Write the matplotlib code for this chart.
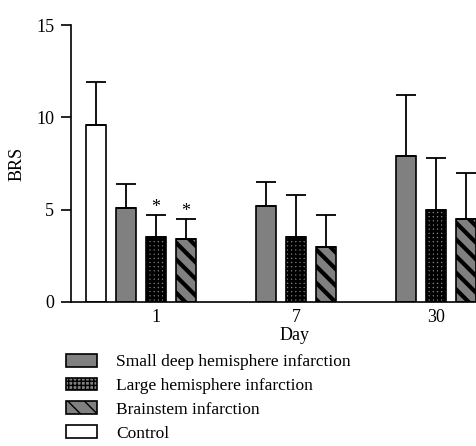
import matplotlib
matplotlib.use("Agg")
import matplotlib.pyplot as plt
import numpy as np
from matplotlib.patches import Patch

plt.rcParams["font.family"] = "Liberation Serif"

days = ["1", "7", "30"]
series = ["Small deep hemisphere infarction", "Large hemisphere infarction", "Brainstem infarction"]
small_deep = [5.1, 5.2, 7.9]
small_deep_err = [1.3, 1.3, 3.3]
large = [3.5, 3.5, 5.0]
large_err = [1.2, 2.3, 2.8]
brainstem = [3.4, 3.0, 4.5]
brainstem_err = [1.1, 1.7, 2.5]
control = 9.6
control_err = 2.3
signif_day1 = [False, True, True]

gray = "#808080"
step = 30 / 140
width = 20 / 140
x = np.arange(len(days))

fig = plt.figure(figsize=(4.77, 4.46), dpi=100)
ax = fig.add_axes([71 / 477, 1 - 302 / 446, 406 / 477, 277 / 446])

err_kw = dict(ecolor="black", elinewidth=1.3, capsize=7.5, capthick=1.3)

ax.bar(-2 * step, control, width, yerr=[[0], [control_err]], color="white",
       edgecolor="black", linewidth=1.2, error_kw=err_kw, zorder=2)

styles = [
    dict(hatch=None, lw_hatch=1.0),
    dict(hatch="++++", lw_hatch=2.0),
    dict(hatch="\\\\", lw_hatch=3.0),
]
values = [small_deep, large, brainstem]
errors = [small_deep_err, large_err, brainstem_err]
handles = []


def set_hlw(p, lw):
    if hasattr(p, "set_hatch_linewidth"):
        p.set_hatch_linewidth(lw)


for i, (vals, errs, st) in enumerate(zip(values, errors, styles)):
    with plt.rc_context({"hatch.linewidth": st["lw_hatch"], "hatch.color": "black"}):
        bars = ax.bar(x + (i - 1) * step, vals, width, yerr=[[0] * len(vals), errs],
                      color=gray, edgecolor="black", linewidth=1.2, hatch=st["hatch"],
                      error_kw=err_kw, zorder=2)
        for b in bars:
            set_hlw(b, st["lw_hatch"])
        h = Patch(facecolor=gray, edgecolor="black", linewidth=1.2,
                  hatch=st["hatch"], label=series[i])
        set_hlw(h, st["lw_hatch"])
        handles.append(h)
handles.append(Patch(facecolor="white", edgecolor="black", linewidth=1.2, label="Control"))

for i, s in enumerate(signif_day1):
    if s:
        ax.text(x[0] + (i - 1) * step, values[i][0] + errors[i][0] - 0.05, "*",
                ha="center", va="bottom", fontsize=13)

ax.set_xlim(-85 / 140, 321 / 140)
ax.set_ylim(0, 15)
ax.set_yticks([0, 5, 10, 15])
ax.set_xticks(x)
ax.set_xticklabels(days)
ax.tick_params(axis="x", length=0, labelsize=13, pad=5)
ax.tick_params(axis="y", length=7, width=1.2, labelsize=13, direction="out", pad=5)
ax.spines["top"].set_visible(False)
ax.spines["right"].set_visible(False)
ax.spines["left"].set_linewidth(1.2)
ax.spines["bottom"].set_linewidth(1.2)
ax.set_xlabel("Day", fontsize=13, labelpad=1)
ax.xaxis.label.set_x((295 - 71) / 406)
ax.set_ylabel("BRS", fontsize=13, labelpad=8)

fig.legend(handles=handles, loc="upper left", bbox_to_anchor=(68 / 477 - 0.005, 1 - 354 / 446),
           frameon=False, fontsize=12.5, handlelength=1.8, handleheight=0.75,
           handletextpad=1.1, labelspacing=0.42, borderaxespad=0, borderpad=0)

fig.savefig("out.png", dpi=100)
